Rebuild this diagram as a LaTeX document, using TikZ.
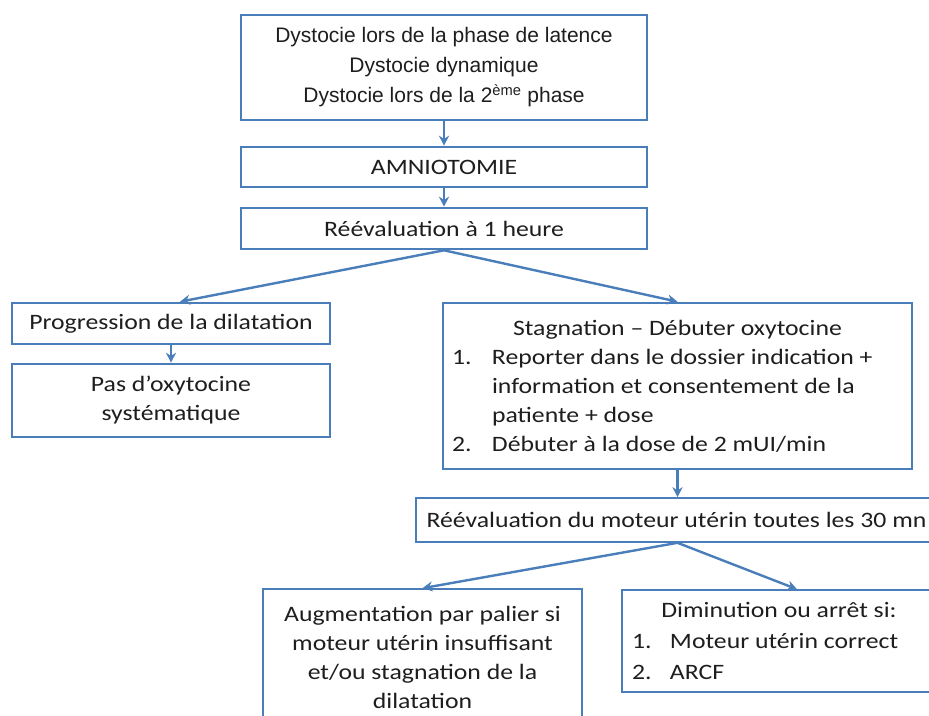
\documentclass[tikz,border=0pt]{standalone}
\usepackage{fontspec}
\setmainfont{Carlito}[FakeStretch=1.17]
\newfontfamily\arialfont{Liberation Sans}
\usetikzlibrary{arrows.meta,calc}
\definecolor{bordo}{HTML}{4A7EBB}
\definecolor{testo}{HTML}{1E1E1E}

\begin{document}
\begin{tikzpicture}[x=1pt, y=-1pt,
    box/.style={draw=bordo, line width=2.6pt, fill=white, inner sep=0pt,
      text=testo, align=center, font=\fontsize{22}{29}\selectfont},
    thinbox/.style={box, line width=1.6pt},
    freccia/.style={-{Stealth[length=10pt,width=10pt]}, line width=2.4pt, draw=bordo}]
    \useasboundingbox[fill=white] (0,0) rectangle (929,715);

    % Colonne centrale
    \node[box, minimum width=406pt, minimum height=105pt,
      font=\arialfont\fontsize{21}{30}\selectfont] (sintomi) at (444,67.5)
      {Dystocie lors de la phase de latence\\ Dystocie dynamique\\
       Dystocie lors de la 2\textsuperscript{ème} phase};
    \node[box, minimum width=406pt, minimum height=40pt] (amnio) at (444,167) {AMNIOTOMIE};
    \node[box, minimum width=406pt, minimum height=41pt] (rivalut) at (444,228.5) {Réévaluation à 1 heure};

    % Branche gauche
    \node[box, minimum width=318pt, minimum height=41pt] (progressione) at (171,323.5)
      {Progression de la dilatation};
    \node[box, minimum width=318pt, minimum height=73pt] (nooxy) at (171,400.5)
      {Pas d’oxytocine\\ systématique};

    % Branche droite
    \node[box, minimum height=166pt, text width=451pt, inner xsep=9pt, align=flush left]
      (stagnazione) at (677.5,386)
      {\makebox[\linewidth][c]{Stagnation – Débuter oxytocine}\\
       \makebox[40pt][l]{1.}Reporter dans le dossier indication +\\
       \hspace*{40pt}information et consentement de la\\
       \hspace*{40pt}patiente + dose\\
       \makebox[40pt][l]{2.}Débuter à la dose de 2 mUI/min};
    \node[thinbox, minimum width=521pt, minimum height=44pt] (motore) at (676.5,520)
      {Réévaluation du moteur utérin toutes les 30 mn};
    \node[thinbox, minimum width=319pt, minimum height=136pt] (aumento) at (422.5,657)
      {Augmentation par palier si\\ moteur utérin insuffisant\\
       et/ou stagnation de la\\ dilatation};
    \node[thinbox, minimum height=102pt, text width=294pt, inner xsep=10pt, align=flush left,
      font=\fontsize{22}{31}\selectfont] (diminuzione) at (779,641)
      {\makebox[\linewidth][c]{Diminution ou arrêt si:}\\
       \makebox[38pt][l]{1.}Moteur utérin correct\\
       \makebox[38pt][l]{2.}ARCF};

    % Frecce
    \coordinate (partenza) at (stagnazione.south |- motore.south);
    \coordinate (arrivo) at ($(diminuzione.north)+(18,0)$);
    \draw[freccia] (sintomi.south) -- (amnio.north);
    \draw[freccia] (amnio.south) -- (rivalut.north);
    \draw[freccia] (rivalut.south) -- ($(progressione.north)+(9,0)$);
    \draw[freccia] (rivalut.south) -- (stagnazione.north);
    \draw[freccia] (progressione.south) -- (nooxy.north);
    \draw[freccia] (stagnazione.south) -- (stagnazione.south |- motore.north);
    \draw[freccia] (partenza) -- (aumento.north);
    \draw[freccia] (partenza) -- (arrivo);
\end{tikzpicture}
\end{document}
